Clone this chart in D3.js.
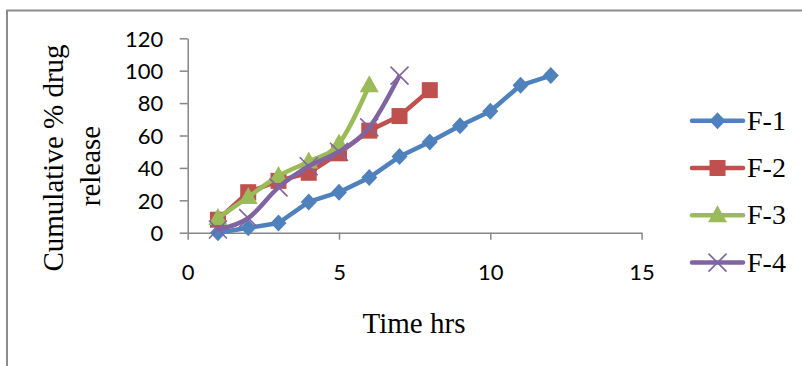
<!DOCTYPE html>
<meta charset="utf-8">
<title>Cumulative % drug release</title>
<style>
body { margin: 0; background: #fff; }
.axis path, .axis line { stroke: #868686; stroke-width: 1.5; }
.axis text { font-family: Lato, "Liberation Sans", sans-serif; font-size: 22px; fill: #000; }
.title { font-family: "Liberation Serif", "Times New Roman", serif; font-size: 29px; fill: #000; }
.legend text { font-family: "Liberation Serif", "Times New Roman", serif; font-size: 28px; fill: #000; }
</style>
<svg width="802" height="366"></svg>
<script src="https://d3js.org/d3.v7.min.js"></script>
<script>

// time points (hrs) and cumulative % release
var hours = [1, 2, 3, 4, 5, 6, 7, 8, 9, 10, 11, 12];
var f1 = [0, 3, 6, 19, 25, 34, 47, 56, 66, 75, 91, 97];
var f2 = [8, 25, 32, 37, 49, 63, 72, 88];
var f3 = [9, 22, 35, 44, 55, 91];
var f4 = [2, 9, 28, 41, 50, 65, 97];

var seriesNames = ["F-1", "F-2", "F-3", "F-4"];
var seriesColors = ["#4F81BD", "#C0504D", "#9BBB59", "#8064A2"];
var xTicks = [0, 5, 10, 15];
var yTicks = [0, 20, 40, 60, 80, 100, 120];

var svg = d3.select("svg");

//outer chart border (only top and left show in the crop)
svg.append("path")
    .attr("d", "M7,366V10.5H802")
    .attr("fill", "none")
    .attr("stroke", "#8c8c8c")
    .attr("stroke-width", 2);

var x = d3.scaleLinear().domain([0, 15]).range([187.7, 641.6]);
var y = d3.scaleLinear().domain([0, 120]).range([232.7, 38.3]);

//y axis
var yAxis = svg.append("g")
    .attr("class", "axis")
    .attr("transform", "translate(" + x(0) + ",0)")
    .call(d3.axisLeft(y).tickValues(yTicks).tickSize(8).tickPadding(16.5).tickSizeOuter(0));
yAxis.selectAll("text").attr("dy", "0.35em");

//x axis
var xAxis = svg.append("g")
    .attr("class", "axis")
    .attr("transform", "translate(0," + y(0) + ")")
    .call(d3.axisBottom(x).tickValues(xTicks).tickSize(7).tickSizeOuter(0));
xAxis.selectAll("text").attr("y", 47).attr("dy", 0);

//axis titles
svg.append("text")
    .attr("class", "title")
    .attr("text-anchor", "middle")
    .attr("transform", "translate(63,158) rotate(-90)")
    .text("Cumulative % drug");
svg.append("text")
    .attr("class", "title")
    .attr("text-anchor", "middle")
    .attr("transform", "translate(100,166) rotate(-90)")
    .text("release");
svg.append("text")
    .attr("class", "title")
    .attr("text-anchor", "middle")
    .attr("x", 414)
    .attr("y", 333)
    .text("Time hrs");

//marker shapes drawn around 0,0
function marker(g, i, color) {
  if (i == 0) {
    g.append("path").attr("d", "M0,-8.5L8,0L0,8.5L-8,0Z").attr("fill", color);
  } else if (i == 1) {
    g.append("rect").attr("x", -8).attr("y", -8).attr("width", 16).attr("height", 16).attr("fill", color);
  } else if (i == 2) {
    g.append("path").attr("d", "M0,-10L9.5,7L-9.5,7Z").attr("fill", color);
  } else {
    g.append("path").attr("d", "M-9,-9L9,9M-9,9L9,-9")
      .attr("stroke", color).attr("stroke-width", 1.6).attr("fill", "none");
  }
}

var allSeries = [f1, f2, f3, f4];
var curves = [d3.curveLinear, d3.curveLinear, d3.curveCatmullRom.alpha(0), d3.curveCatmullRom.alpha(0)];

allSeries.forEach(function(vals, i) {
  var pts = vals.map(function(v, j) { return [hours[j], v]; });
  var line = d3.line()
      .x(function(d) { return x(d[0]); })
      .y(function(d) { return y(d[1]); })
      .curve(curves[i]);

  var g = svg.append("g");
  g.append("path")
      .datum(pts)
      .attr("fill", "none")
      .attr("stroke", seriesColors[i])
      .attr("stroke-width", 4.5)
      .attr("stroke-linejoin", "round")
      .attr("d", line);

  g.selectAll("g.pt")
    .data(pts)
    .enter().append("g")
      .attr("class", "pt")
      .attr("transform", function(d) { return "translate(" + x(d[0]) + "," + y(d[1]) + ")"; })
      .each(function() { marker(d3.select(this), i, seriesColors[i]); });
});

//legend
var legend = svg.append("g").attr("class", "legend");
seriesNames.forEach(function(name, i) {
  var ly = 120.7 + i * 47.3;
  legend.append("line")
      .attr("x1", 692).attr("x2", 743)
      .attr("y1", ly).attr("y2", ly)
      .attr("stroke", seriesColors[i])
      .attr("stroke-width", 4.5)
      .attr("stroke-linecap", "round");
  var m = legend.append("g").attr("transform", "translate(717.5," + ly + ")");
  marker(m, i, seriesColors[i]);
  legend.append("text")
      .attr("x", 747)
      .attr("y", ly + 9)
      .text(name);
});

</script>
